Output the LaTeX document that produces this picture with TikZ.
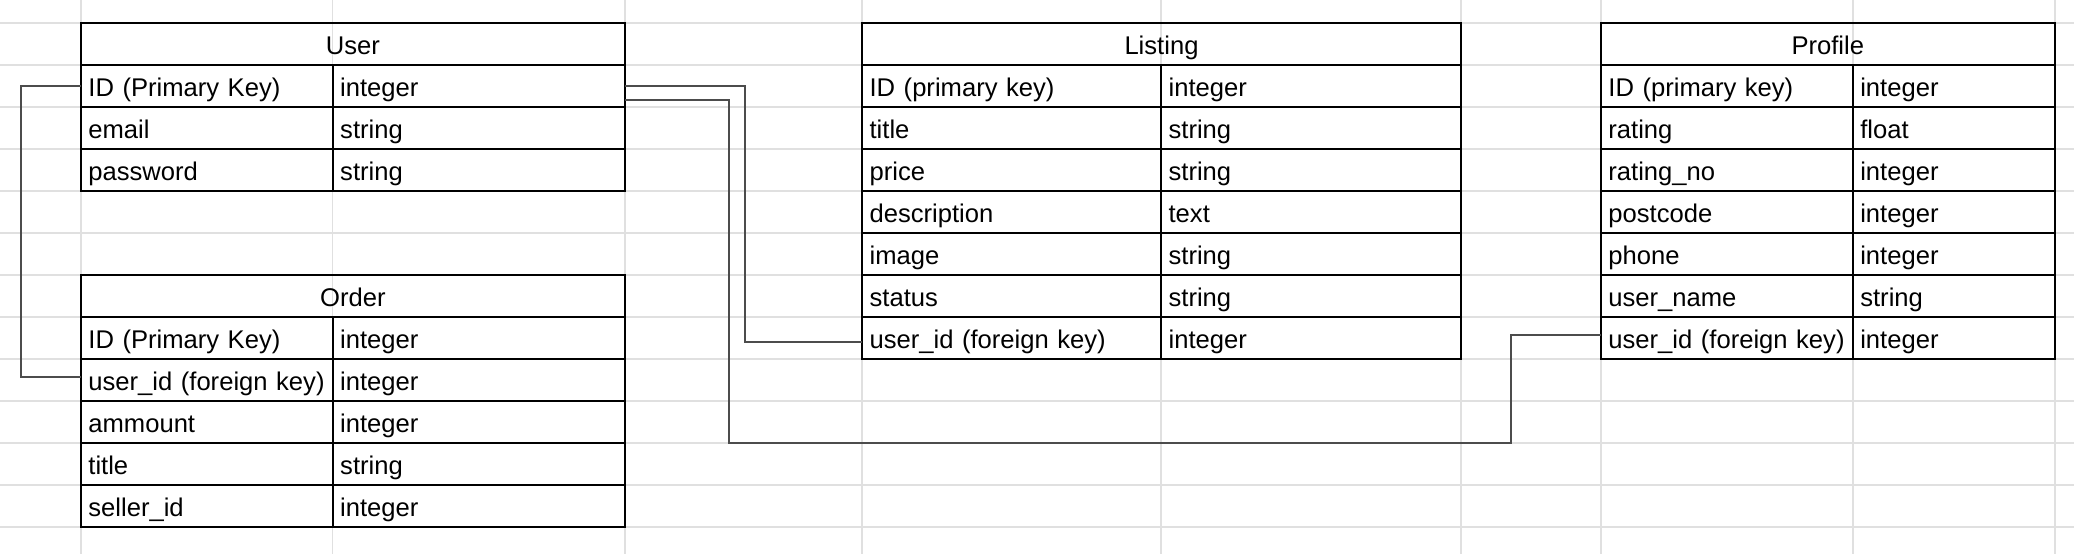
\documentclass[tikz,border=0pt]{standalone}
\usepackage{fontspec}
\setmainfont{Liberation Sans}
\usepackage{tikz}

\begin{document}
\begin{tikzpicture}[
    x=0.5pt, y=-0.5pt,
    cell/.style={rectangle, draw, line width=1pt, anchor=north west, outer sep=0pt,
      inner xsep=3.8pt, inner ysep=0pt, minimum height=21pt,
      text height=11pt, text depth=1pt, align=left,
      font=\fontsize{12.8pt}{15pt}\selectfont},
    header/.style={cell, align=center},
    sheetline/.style={draw=black!12, line width=0.8pt},
    relation/.style={draw=black!70, line width=1pt}
]
  \useasboundingbox (0,0) rectangle (2074,554);
  % Spreadsheet grid behind the tables.
  \foreach \gx in {80.8, 332.6, 624.7, 862, 1161, 1461, 1600.8, 1852.7, 2054.8}
    \draw[sheetline] (\gx, 0) -- (\gx, 554);
  \foreach \gy in {0,...,12}
    \draw[sheetline] (0, 23+42*\gy) -- (2074, 23+42*\gy);

  % User
  \node[header, text width=264.5pt] (user) at (80.8, 23) {User};
  \foreach \key/\kind [count=\r] in {ID (Primary Key)/integer, email/string, password/string} {
    \node[cell, text width=118.3pt] (user-k\r) at (80.8, 23+42*\r) {\key};
    \node[cell, text width=138.6pt] (user-v\r) at (332.6, 23+42*\r) {\kind};
  }
  % Order
  \node[header, text width=264.5pt] (order) at (80.8, 275) {Order};
  \foreach \key/\kind [count=\r] in {ID (Primary Key)/integer, user\_id (foreign key)/integer,
      ammount/integer, title/string, seller\_id/integer} {
    \node[cell, text width=118.3pt] (order-k\r) at (80.8, 275+42*\r) {\key};
    \node[cell, text width=138.6pt] (order-v\r) at (332.6, 275+42*\r) {\kind};
  }
  % Listing
  \node[header, text width=291.9pt] (listing) at (862, 23) {Listing};
  \foreach \key/\kind [count=\r] in {ID (primary key)/integer, title/string, price/string,
      description/text, image/string, status/string, user\_id (foreign key)/integer} {
    \node[cell, text width=141.9pt] (listing-k\r) at (862, 23+42*\r) {\key};
    \node[cell, text width=142.4pt] (listing-v\r) at (1161, 23+42*\r) {\kind};
  }
  % Profile
  \node[header, text width=219.4pt] (profile) at (1600.8, 23) {Profile};
  \foreach \key/\kind [count=\r] in {ID (primary key)/integer, rating/float, rating\_no/integer,
      postcode/integer, phone/integer, user\_name/string, user\_id (foreign key)/integer} {
    \node[cell, text width=118.4pt] (profile-k\r) at (1600.8, 23+42*\r) {\key};
    \node[cell, text width=93.4pt] (profile-v\r) at (1852.7, 23+42*\r) {\kind};
  }

  % User ID to each foreign key.
  \draw[relation] (user-k1.west) -- ++(-60, 0) |- ([yshift=1.7pt]order-k2.west);
  \draw[relation] (user-v1.east) -- ++(119.7, 0) |- ([yshift=-2pt]listing-k7.west);
  \coordinate (turn) at (1511, 443.3);
  \draw[relation] ([yshift=-6.8pt]user-v1.east) -- ++(103.7, 0) |- (turn)
    |- ([yshift=1.5pt]profile-k7.west);
\end{tikzpicture}
\end{document}
